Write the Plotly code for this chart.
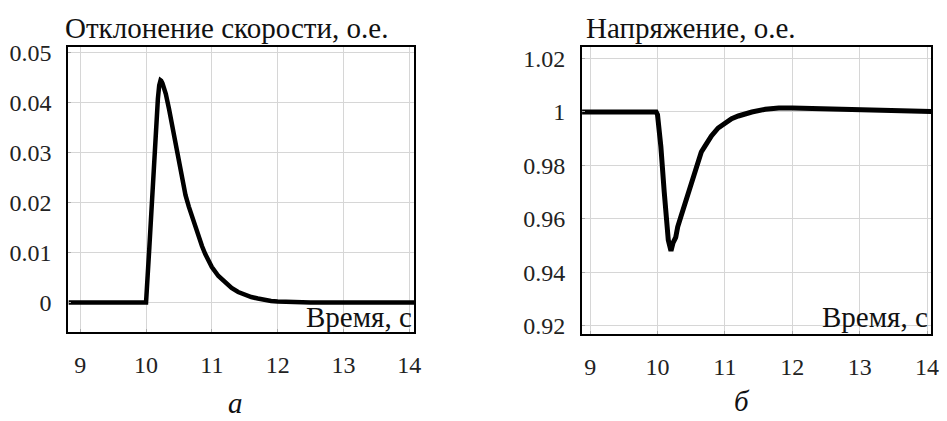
import plotly.graph_objects as go

# Speed deviation, p.u.
t_speed = [8.82, 10.0, 10.05, 10.1, 10.15, 10.18, 10.2, 10.21, 10.22, 10.23, 10.25, 10.27, 10.3,
           10.35, 10.4, 10.45, 10.5, 10.55, 10.6, 10.65, 10.7, 10.75, 10.8, 10.85, 10.9, 10.95,
           11.0, 11.1, 11.2, 11.3, 11.4, 11.5, 11.6, 11.7, 11.8, 11.9, 12.0, 12.2, 12.5, 13.0, 14.08]
speed = [0.0, 0.0, 0.011, 0.024, 0.035, 0.0408, 0.0435, 0.0442, 0.0445, 0.0444, 0.0439, 0.0431,
         0.0418, 0.0387, 0.0352, 0.0312, 0.0274, 0.0242, 0.0215, 0.0192, 0.0171, 0.0151, 0.0131,
         0.0113, 0.0097, 0.0083, 0.0071, 0.0053, 0.0040, 0.0029, 0.0021, 0.0015, 0.0011, 0.0008,
         0.0005, 0.0003, 0.0002, 0.0001, 0.0, 0.0, 0.0]

# Voltage, p.u.
t_volt = [8.88, 9.98, 10.0, 10.05, 10.1, 10.13, 10.16, 10.2, 10.23, 10.27, 10.3, 10.35,
          10.4, 10.45, 10.5, 10.55, 10.6, 10.65, 10.7, 10.75, 10.8, 10.9, 11.0, 11.1, 11.2,
          11.3, 11.4, 11.6, 11.8, 12.0, 12.5, 13.0, 13.5, 14.06]
volt = [1.0, 1.0, 0.999, 0.987, 0.970, 0.959, 0.952, 0.948, 0.951, 0.953, 0.957, 0.961,
        0.965, 0.970, 0.974, 0.978, 0.982, 0.985, 0.987, 0.989, 0.991, 0.994, 0.996, 0.9975,
        0.9985, 0.9993, 1.0, 1.001, 1.0015, 1.0015, 1.0012, 1.001, 1.0005, 1.0002]

x_ticks = [9, 10, 11, 12, 13, 14]
speed_ticks = [0, 0.01, 0.02, 0.03, 0.04, 0.05]
speed_tick_text = ["0", "0.01", "0.02", "0.03", "0.04", "0.05"]
volt_ticks = [0.92, 0.94, 0.96, 0.98, 1.0, 1.02]
volt_tick_text = ["0.92", "0.94", "0.96", "0.98", "1", "1.02"]

W, H = 947, 421
SERIF = "Liberation Serif"
GRID = "#d6d6d6"

fig = go.Figure()
fig.add_trace(go.Scatter(x=t_speed, y=speed, mode="lines", xaxis="x", yaxis="y",
                         line=dict(color="black", width=4.5), showlegend=False))
fig.add_trace(go.Scatter(x=t_volt, y=volt, mode="lines", xaxis="x2", yaxis="y2",
                         line=dict(color="black", width=5), showlegend=False))

def px_x(p):
    return p / W

def px_y(p):
    return 1 - p / H

axis_common = dict(showgrid=True, gridcolor=GRID, gridwidth=1.2, zeroline=False,
                   showline=True, linecolor="black", linewidth=2, mirror=True,
                   ticks="inside", ticklen=3, tickcolor="#aaaaaa",
                   tickfont=dict(family=SERIF, size=24, color="#222222"))

fig.update_layout(
    width=W, height=H,
    margin=dict(l=0, r=0, t=0, b=0),
    paper_bgcolor="white", plot_bgcolor="white",
    font=dict(family=SERIF),
    xaxis=dict(domain=[px_x(69), px_x(418)], range=[8.82, 14.08], anchor="y",
               tickvals=x_ticks, ticktext=[str(v) for v in x_ticks],
               ticklabelstandoff=10, **axis_common),
    yaxis=dict(domain=[px_y(335), px_y(41)], range=[-0.006, 0.0512], anchor="x",
               tickvals=speed_ticks, ticktext=speed_tick_text,
               ticklabelstandoff=10, **axis_common),
    xaxis2=dict(domain=[px_x(587), px_x(939)], range=[8.88, 14.06], anchor="y2",
                tickvals=x_ticks, ticktext=[str(v) for v in x_ticks],
                ticklabelstandoff=10, **axis_common),
    yaxis2=dict(domain=[px_y(337), px_y(41)], range=[0.9167, 1.0244], anchor="x2",
                tickvals=volt_ticks, ticktext=volt_tick_text,
                ticklabelstandoff=10, **axis_common),
)

def label(text, x, y, xanchor="left", size=29, italic=False):
    fig.add_annotation(text=text, x=px_x(x), y=px_y(y), xref="paper", yref="paper",
                       xanchor=xanchor, yanchor="middle", showarrow=False,
                       font=dict(family=SERIF, size=size, color="#111111",
                                 style="italic" if italic else "normal"))

label("Отклонение скорости, о.е.", 64, 22)
label("Напряжение, о.е.", 589, 22)
label("Время, с", 418, 319, xanchor="right")
label("Время, с", 938, 319, xanchor="right")
label("а", 238, 408, xanchor="center", italic=True)
label("б", 748, 406, xanchor="center", italic=True)

fig.write_html("out.html")
